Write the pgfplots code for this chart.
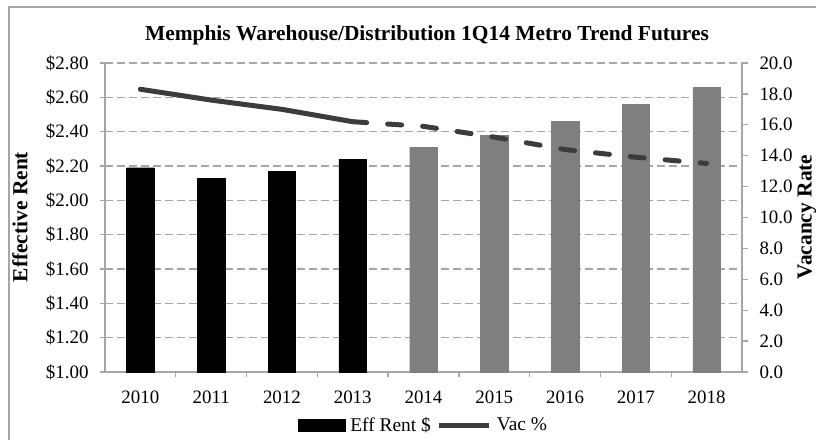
\documentclass[border=0pt]{standalone}
\usepackage{fontspec}
\setmainfont{Liberation Serif}
\usepackage{pgfplots}
\pgfplotsset{compat=1.18}
\definecolor{gridgray}{HTML}{A6A6A6}
\definecolor{bargray}{HTML}{7F7F7F}
\definecolor{linegray}{HTML}{3C3C3C}
\newcommand{\tfont}{\fontsize{19}{21}\selectfont}
\begin{document}
\begin{tikzpicture}
\useasboundingbox (-105bp,-68bp) rectangle (711bp,372bp);
\draw[gridgray, line width=1.5bp] (-96bp,-68bp) -- (-96bp,365bp) -- (711bp,365bp);
\begin{axis}[
  at={(0,0)}, anchor=south west,
  scale only axis, width=637bp, height=309bp,
  xmin=-0.5, xmax=8.5, ymin=1, ymax=2.8,
  axis x line*=bottom, axis y line*=left,
  axis line style={gridgray, line width=1.3bp},
  /pgf/number format/assume math mode=true,
  ticklabel style={font=\tfont},
  xtick={0,...,8},
  xticklabels={2010,2011,2012,2013,2014,2015,2016,2017,2018},
  x tick style={draw=none},
  extra x ticks={0.5,1.5,...,7.5},
  extra x tick labels={},
  extra x tick style={tick align=outside, major tick length=5bp, x tick style={draw=gridgray, line width=1.3bp}},
  xticklabel style={yshift=-10bp},
  ytick={1,1.2,1.4,1.6,1.8,2.0,2.2,2.4,2.6,2.8},
  yticklabel={\$\pgfmathprintnumber[fixed,fixed zerofill,precision=2]{\tick}},
  yticklabel style={xshift=-8bp},
  y tick style={gridgray, line width=1.3bp},
  tick align=center, major tick length=10bp,
  ymajorgrids,
  grid style={gridgray, line width=1.3bp, dash pattern=on 8bp off 4bp},
  legend columns=2,
  legend style={at={(0.5,-53bp)}, anchor=center, draw=none, font=\fontsize{19.5}{21}\selectfont,
    column sep=3bp, /tikz/every even column/.append style={column sep=4bp}},
]
\addplot[ybar, bar width=27.5bp, bar shift=0pt, fill=black, draw=black,
  legend image code/.code={\fill[black] (0bp,-6bp) rectangle (47bp,6bp);}]
  coordinates {(0,2.19) (1,2.13) (2,2.17) (3,2.24)};
\addlegendentry{Eff Rent \$}
\addplot[ybar, bar width=27.5bp, bar shift=0pt, fill=bargray, draw=bargray, forget plot]
  coordinates {(4,2.31) (5,2.38) (6,2.46) (7,2.56) (8,2.66)};
\addlegendimage{legend image code/.code={\draw[linegray, line width=5bp] (0bp,0bp) -- (50bp,0bp);}}
\addlegendentry{Vac \%}
\end{axis}
\begin{axis}[
  at={(0,0)}, anchor=south west,
  scale only axis, width=637bp, height=309bp,
  xmin=-0.5, xmax=8.5, ymin=0, ymax=20,
  axis x line=none, axis y line*=right,
  axis line style={gridgray, line width=1.3bp},
  /pgf/number format/assume math mode=true,
  ticklabel style={font=\tfont},
  ytick={0,2,...,20},
  yticklabel={\pgfmathprintnumber[fixed,fixed zerofill,precision=1]{\tick}},
  yticklabel style={xshift=8bp},
  y tick style={gridgray, line width=1.3bp},
  tick align=outside, major tick length=6bp,
]
\addplot[linegray, line width=5bp, line cap=round, line join=round]
  coordinates {(0,18.3) (1,17.6) (2,17.0) (3,16.2)};
\addplot[linegray, line width=5bp, line cap=round, dash pattern=on 14bp off 21bp]
  coordinates {(3,16.2) (4,15.9) (5,15.2) (6,14.4) (7,13.9) (8,13.5)};
\end{axis}
\node[font=\bfseries\fontsize{21.5}{24}\selectfont] at (322bp,337bp) {Memphis Warehouse/Distribution 1Q14 Metro Trend Futures};
\node[font=\bfseries\fontsize{21.5}{24}\selectfont, rotate=90] at (-85bp,155bp) {Effective Rent};
\node[font=\bfseries\fontsize{21.5}{24}\selectfont, rotate=90] at (702bp,155bp) {Vacancy Rate};
\end{tikzpicture}
\end{document}
